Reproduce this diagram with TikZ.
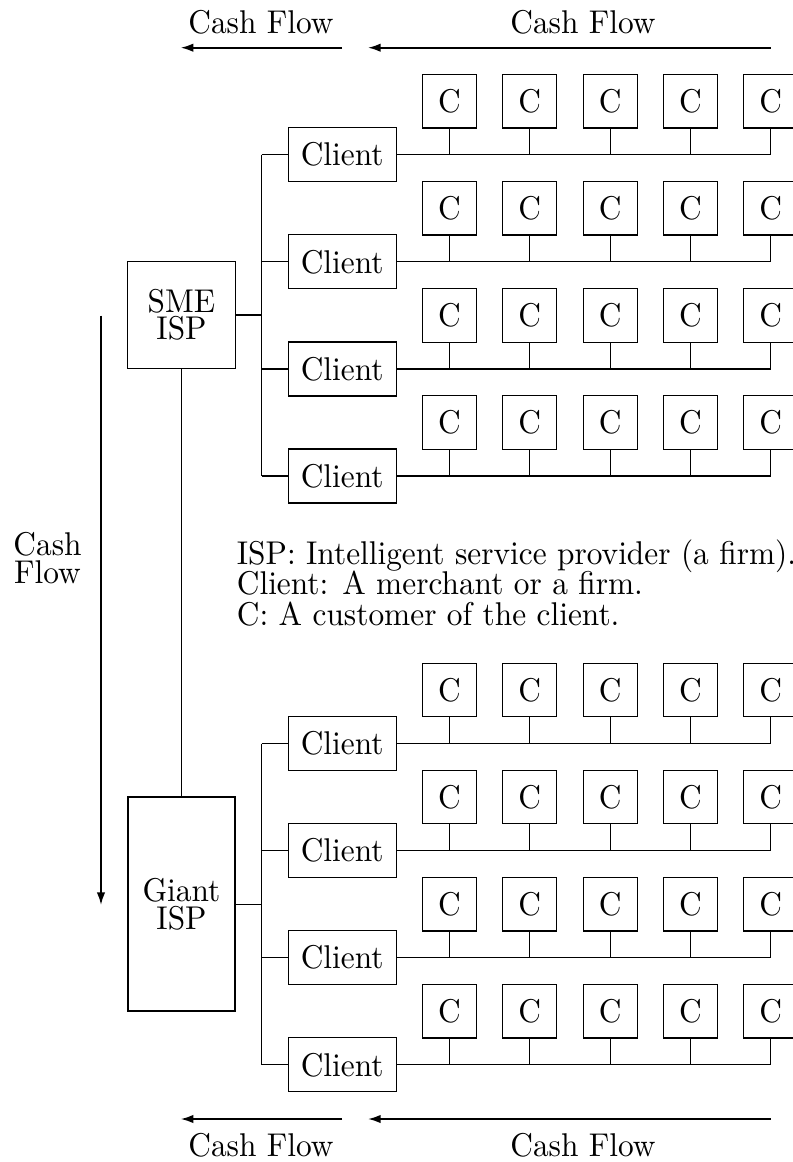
\documentclass[tikz,border=0pt]{standalone}
\usetikzlibrary{arrows.meta}
% slightly tall lettering
\newcommand\tl[1]{\scalebox{1}[1.05]{#1}}
% centred and left-aligned stacks of lines with a fixed baseline distance
\newcommand\cstack[2]{\tl{\vbox{\baselineskip=#1\lineskiplimit=-100pt\lineskip=0pt\halign{\hfil##\hfil\cr#2\crcr}}}}
\newcommand\lstack[2]{\tl{\vtop{\baselineskip=#1\lineskiplimit=-100pt\lineskip=0pt\halign{##\hfil\cr#2\crcr}}}}
\begin{document}
\begin{tikzpicture}[x=0.333333pt,y=-0.333333pt,
  every node/.style={inner sep=0pt, font=\fontsize{10.45pt}{10pt}\selectfont},
  cbox/.style={draw, line width=0.4pt, minimum width=18pt, minimum height=17.8pt},
  clientbox/.style={draw, line width=0.4pt, minimum width=36pt, minimum height=18pt},
  ispbox/.style={draw, minimum width=35.9pt},
  wire/.style={line width=0.4pt},
  flow/.style={line width=0.6pt, -{Latex[length=4.2pt,width=2.8pt]}},
  flowtext/.style={anchor=base}]
\useasboundingbox (0,0) rectangle (793,1162);

% two service providers
\node[ispbox, line width=0.4pt, minimum height=35.6pt] (sme) at (181.5,315) {\cstack{8.65pt}{SME\cr ISP}};
\node[ispbox, line width=0.75pt, minimum height=71.3pt] (giant) at (181.5,904.2) {\cstack{8.65pt}{Giant\cr ISP}};

% four clients per provider, five customers per client
\foreach \h/\yz in {a/154.7, b/743.5} {
  \foreach \r in {0,...,3} {
    \pgfmathsetmacro\yc{\yz+107.1*\r}
    \node[clientbox] (cl-\h\r) at (342.2,\yc) {\tl{Client}};
    \foreach \k in {1,...,5} {
      \node[cbox] (c-\h\r\k) at ({449.5+80.3*(\k-1)},{\yc-53.5}) {\tl{C}};
      \draw[wire] (c-\h\r\k.south) -- (c-\h\r\k.south |- cl-\h\r.east);
    }
    \draw[wire] (cl-\h\r.east) -- (c-\h\r5.south |- cl-\h\r.east);
    \coordinate (tap-\h\r) at (261.7,\yc);
    \draw[wire] (tap-\h\r) -- (cl-\h\r.west);
  }
  \draw[wire] (tap-\h0) -- (tap-\h3);
}

% provider links
\draw[wire] (sme.east) -- (sme.east -| tap-a0);
\draw[wire] (giant.east) -- (giant.east -| tap-b0);
\draw[wire] (sme.south) -- (giant.north);

% cash flow arrows along the top
\coordinate (ftl-s) at (342,47.7);   \coordinate (ftl-e) at (180.7,47.7);
\coordinate (ftr-s) at (770.7,47.7); \coordinate (ftr-e) at (368,47.7);
\draw[flow] (ftl-s) -- (ftl-e);
\draw[flow] (ftr-s) -- (ftr-e);
\node[flowtext] (tl-txt) at (261,33.3) {\tl{Cash Flow}};
\node[flowtext] (tr-txt) at (583,33.3) {\tl{Cash Flow}};

% cash flow arrows along the bottom
\coordinate (fbl-s) at (342,1119);   \coordinate (fbl-e) at (180.7,1119);
\coordinate (fbr-s) at (770.7,1119); \coordinate (fbr-e) at (368,1119);
\draw[flow] (fbl-s) -- (fbl-e);
\draw[flow] (fbr-s) -- (fbr-e);
\node[flowtext] (bl-txt) at (261,1156.7) {\tl{Cash Flow}};
\node[flowtext] (br-txt) at (583,1156.7) {\tl{Cash Flow}};

% vertical cash flow
\coordinate (fv-s) at (101,315.7); \coordinate (fv-e) at (101,905);
\draw[flow] (fv-s) -- (fv-e);
\node (v-txt) at (47.5,558) {\cstack{8.9pt}{Cash\cr Flow}};

% legend
\node[anchor=base west] (legend) at (236.3,564)
  {\lstack{9.7pt}{ISP: Intelligent service provider (a firm).\cr Client: A merchant or a firm.\cr C: A customer of the client.}};
\end{tikzpicture}
\end{document}
